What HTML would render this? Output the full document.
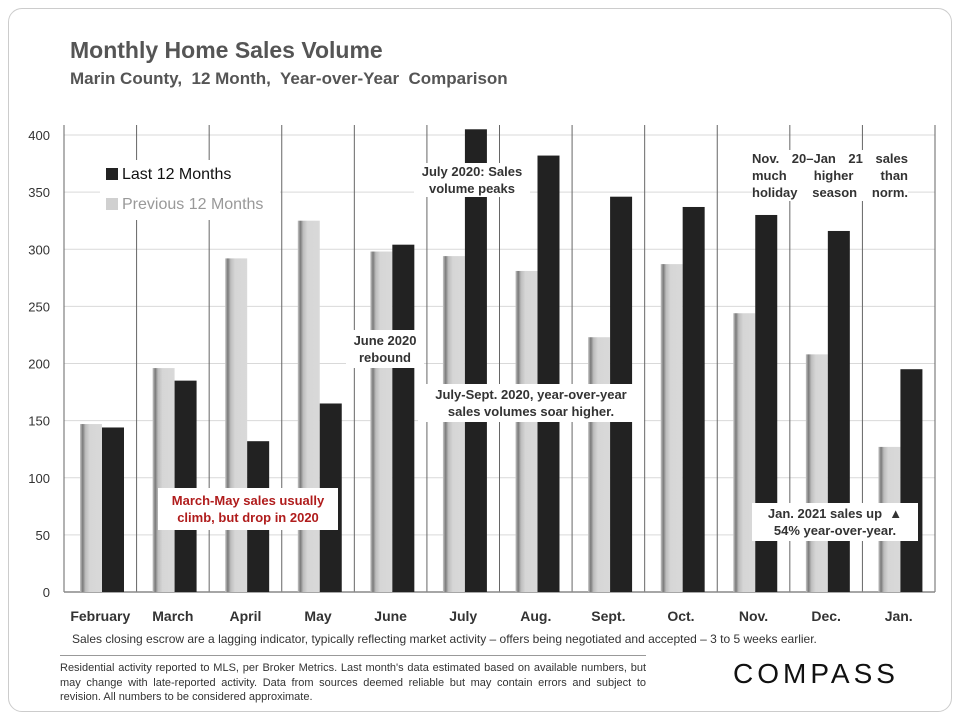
<!DOCTYPE html>
<html><head><meta charset="utf-8">
<style>
body{margin:0;background:#fff;font-family:"Liberation Sans",sans-serif;}
#wrap{position:relative;width:960px;height:720px;overflow:hidden;}
.t{position:absolute;white-space:nowrap;}
.ann{position:absolute;background:#fff;font-weight:bold;font-size:13px;color:#333;text-align:center;line-height:17px;}
</style></head><body>
<div id="wrap">
<div style="position:absolute;left:8px;top:8px;width:942px;height:702px;border:1px solid #ccc;border-radius:14px;"></div>
<div class="t" style="left:70px;top:37px;font-size:23px;font-weight:bold;color:#555;">Monthly Home Sales Volume</div>
<div class="t" style="left:70px;top:69px;font-size:17px;font-weight:bold;color:#555;">Marin County,&nbsp; 12 Month,&nbsp; Year-over-Year&nbsp; Comparison</div>
<svg id="chart" width="960" height="720" style="position:absolute;left:0;top:0;">
<defs>
<linearGradient id="pg" x1="0" x2="1" y1="0" y2="0">
<stop offset="0" stop-color="#c8c8c8"/><stop offset="0.12" stop-color="#7a7a7a"/><stop offset="0.25" stop-color="#bdbdbd"/><stop offset="0.45" stop-color="#d6d6d6"/><stop offset="1" stop-color="#d9d9d9"/>
</linearGradient>
</defs>
</svg>
<div class="ann" style="left:100px;top:160px;width:180px;height:60px;text-align:left;font-weight:normal;">
<div style="position:absolute;left:6px;top:6px;font-size:16px;color:#111;"><span style="display:inline-block;width:12px;height:12px;background:#222;margin-right:4px;vertical-align:-1px"></span>Last 12 Months</div>
<div style="position:absolute;left:6px;top:36px;font-size:16px;color:#999;"><span style="display:inline-block;width:12px;height:12px;background:#d0d0d0;margin-right:4px;vertical-align:-1px"></span>Previous 12 Months</div>
</div>
<div class="ann" style="left:414px;top:163px;width:116px;">July 2020: Sales<br>volume peaks</div>
<div class="ann" style="left:752px;top:150px;width:156px;text-align:justify;text-align-last:justify;">Nov. 20–Jan 21 sales much higher than holiday season norm.</div>
<div class="ann" style="left:346px;top:330px;width:78px;padding:2px 0;">June 2020<br>rebound</div>
<div class="ann" style="left:418px;top:384px;width:226px;padding:2px 0;">July-Sept. 2020, year-over-year<br>sales volumes soar higher.</div>
<div class="ann" style="left:158px;top:488px;width:180px;color:#b01c1c;padding:4px 0;">March-May sales usually<br>climb, but drop in 2020</div>
<div class="ann" style="left:752px;top:503px;width:166px;padding:2px 0;">Jan. 2021 sales up&nbsp; ▲<br>54% year-over-year.</div>
<div class="t" style="left:72px;top:632px;font-size:12px;color:#333;">Sales closing escrow are a lagging indicator, typically reflecting market activity – offers being negotiated and accepted – 3 to 5 weeks earlier.</div>
<div style="position:absolute;left:60px;top:655px;width:586px;border-top:1px solid #999;padding-top:5px;font-size:11px;line-height:14.5px;color:#333;text-align:justify;">Residential activity reported to MLS, per Broker Metrics. Last month's data estimated based on available numbers, but may change with late-reported activity. Data from sources deemed reliable but may contain errors and subject to revision. All numbers to be considered approximate.</div>
<div class="t" style="left:733px;top:658px;font-size:28px;letter-spacing:4px;color:#111;">COMPASS</div>
</div>
<script>
const categories=["February","March","April","May","June","July","Aug.","Sept.","Oct.","Nov.","Dec.","Jan."];
const previous12=[147,196,292,325,298,294,281,223,287,244,208,127];
const last12=[144,185,132,165,304,405,382,346,337,330,316,195];
const yTicks=[0,50,100,150,200,250,300,350,400];
const svg=document.getElementById('chart');
const NS='http://www.w3.org/2000/svg';
const X0=64,X1=935,Y0=592,Y1=135,YMAX=400;
const cw=(X1-X0)/categories.length;
function y(v){return Y0-(v/YMAX)*(Y0-Y1);}
function xc(i){return X0+i*cw;}
function mk(tag,attrs){const e=document.createElementNS(NS,tag);for(const k in attrs)e.setAttribute(k,attrs[k]);svg.appendChild(e);return e;}
yTicks.forEach(t=>{
  if(t>0){const g=mk('line',{x1:X0,x2:X1,y1:y(t),y2:y(t),stroke:'#d9d9d9','stroke-width':1});
  
  }
  const l=mk('text',{x:50,y:y(t)+5,'text-anchor':'end','font-size':13,fill:'#333','font-family':'Liberation Sans, sans-serif'});
  l.textContent=t;
  
  
});
for(let i=0;i<=categories.length;i++){
  const d=mk('line',{x1:xc(i),x2:xc(i),y1:125,y2:Y0,stroke:'#666','stroke-width':1});
  
  
}
const ax=mk('line',{x1:X0,x2:X1,y1:Y0,y2:Y0,stroke:'#888','stroke-width':1.5});


categories.forEach((c,i)=>{
  const b1=mk('rect',{x:xc(i)+16,y:y(previous12[i]),width:22,height:Y0-y(previous12[i]),fill:'url(#pg)'});
  
  
  const b2=mk('rect',{x:xc(i)+38,y:y(last12[i]),width:22,height:Y0-y(last12[i]),fill:'#222'});
  
  
  const l=mk('text',{x:xc(i)+cw/2,y:621,'text-anchor':'middle','font-size':14,'font-weight':'bold',fill:'#333','font-family':'Liberation Sans, sans-serif'});
  l.textContent=c;
  
  
});
</script>
</body></html>
